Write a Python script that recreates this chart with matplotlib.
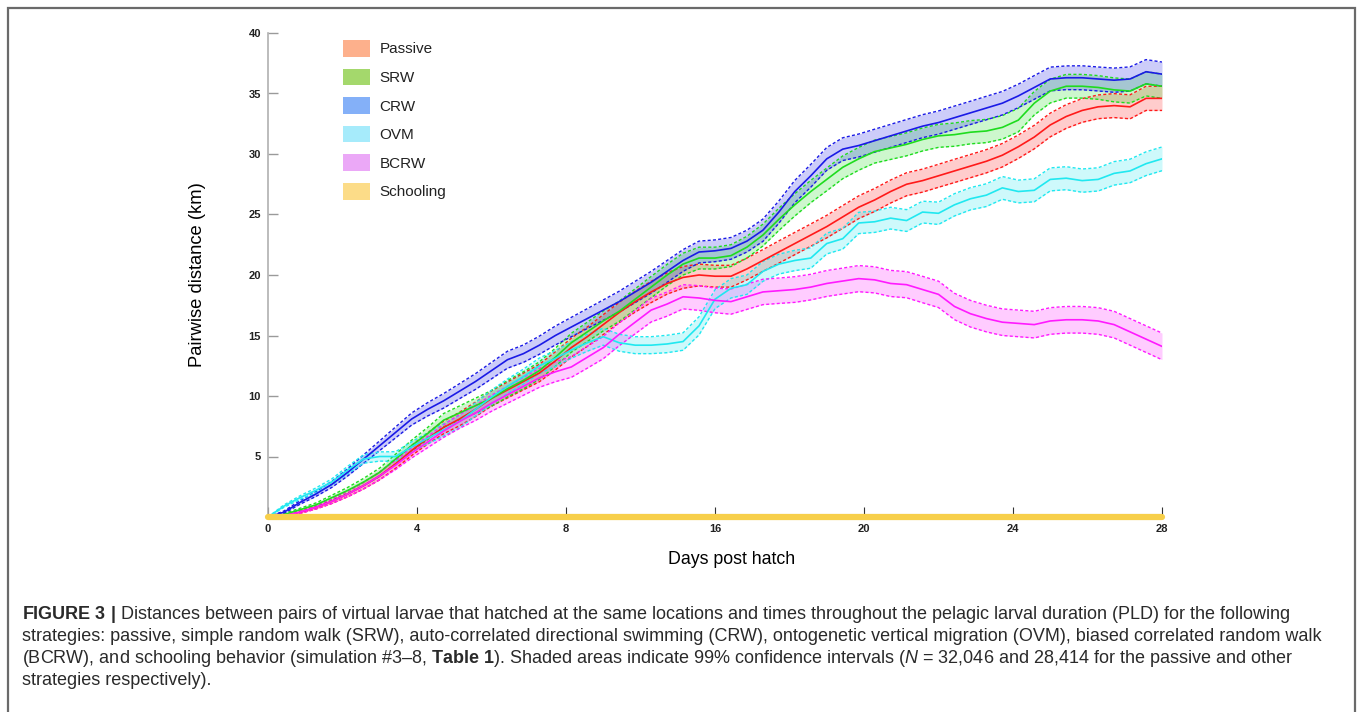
import matplotlib
matplotlib.use("Agg")
import matplotlib.pyplot as plt
from matplotlib.patches import Patch, Rectangle

plt.rcParams['font.family'] = ['Liberation Sans', 'DejaVu Sans']
plt.rcParams['mathtext.fontset'] = 'custom'
plt.rcParams['mathtext.rm'] = 'Liberation Sans'
plt.rcParams['mathtext.bf'] = 'Liberation Sans:bold'
plt.rcParams['mathtext.it'] = 'Liberation Sans:italic'

# ---------------- data ----------------
days = [i * 0.5 for i in range(57)]

crw = [0, 0.4, 1.2, 1.9, 2.7, 3.7, 4.8, 5.9, 7.0, 8.1,
       8.9, 9.6, 10.4, 11.2, 12.1, 13.0, 13.5, 14.2, 15.0, 15.7,
       16.4, 17.1, 17.8, 18.6, 19.4, 20.3, 21.2, 21.9, 22.0, 22.2,
       22.8, 23.7, 25.2, 26.9, 28.2, 29.6, 30.4, 30.7, 31.1, 31.5,
       31.9, 32.3, 32.6, 33.0, 33.4, 33.8, 34.2, 34.8, 35.5, 36.2,
       36.3, 36.3, 36.2, 36.1, 36.2, 36.8, 36.6]
srw = [0, 0.2, 0.6, 1.0, 1.6, 2.2, 2.9, 3.7, 4.8, 5.9,
       6.9, 8.0, 8.6, 9.2, 9.8, 10.6, 11.3, 12.1, 13.2, 14.4,
       15.3, 16.2, 17.0, 18.0, 19.0, 20.0, 20.9, 21.4, 21.4, 21.6,
       22.3, 23.3, 24.6, 25.8, 26.9, 27.9, 28.9, 29.6, 30.2, 30.5,
       30.8, 31.2, 31.5, 31.6, 31.8, 31.9, 32.2, 32.8, 34.2, 35.2,
       35.6, 35.6, 35.5, 35.3, 35.2, 35.8, 35.6]
passive = [0, 0.1, 0.4, 0.8, 1.3, 1.9, 2.6, 3.4, 4.4, 5.5,
           6.5, 7.4, 8.1, 8.9, 9.8, 10.5, 11.2, 11.9, 12.9, 14.0,
           14.9, 15.9, 16.9, 17.8, 18.6, 19.3, 19.8, 20.0, 19.9, 19.9,
           20.5, 21.2, 21.9, 22.6, 23.3, 24.0, 24.8, 25.6, 26.2, 26.9,
           27.5, 27.8, 28.2, 28.6, 29.0, 29.4, 29.9, 30.6, 31.4, 32.4,
           33.1, 33.6, 33.9, 34.0, 33.9, 34.6, 34.6]
bcrw = [0, 0.1, 0.4, 0.8, 1.3, 1.9, 2.6, 3.4, 4.3, 5.3,
        6.2, 7.1, 7.9, 8.6, 9.4, 10.1, 10.8, 11.5, 12.0, 12.4,
        13.2, 14.0, 15.1, 16.1, 17.1, 17.6, 18.2, 18.1, 17.9, 17.8,
        18.2, 18.6, 18.7, 18.8, 19.0, 19.3, 19.5, 19.7, 19.6, 19.3,
        19.2, 18.8, 18.4, 17.4, 16.8, 16.4, 16.1, 16.0, 15.9, 16.2,
        16.3, 16.3, 16.2, 15.9, 15.3, 14.7, 14.1]
ovm = [0, 0.9, 1.6, 2.2, 2.9, 3.9, 4.8, 5.0, 5.0, 5.8,
       6.5, 7.2, 7.9, 8.9, 9.9, 10.8, 11.6, 12.5, 13.1, 13.8,
       14.4, 14.9, 14.4, 14.2, 14.2, 14.3, 14.5, 15.8, 18.0, 18.9,
       19.2, 20.3, 20.9, 21.2, 21.4, 22.6, 23.0, 24.3, 24.4, 24.7,
       24.5, 25.2, 25.1, 25.8, 26.3, 26.6, 27.2, 26.9, 27.0, 27.9,
       28.0, 27.8, 27.9, 28.4, 28.6, 29.2, 29.6]
schooling = [0.0] * 57

# 99% CI half-widths (km)
ci_crw = [0, 0.10, 0.15, 0.20, 0.25, 0.30, 0.35, 0.40, 0.45, 0.50,
          0.55, 0.60, 0.62, 0.65, 0.68, 0.70, 0.72, 0.75, 0.78, 0.80,
          0.82, 0.84, 0.86, 0.88, 0.90, 0.90, 0.90, 0.90, 0.90, 0.90,
          0.90, 0.92, 0.92, 0.92, 0.94, 0.94, 0.94, 0.95, 0.95, 0.95,
          0.95, 0.95, 0.96, 0.96, 0.96, 0.97, 0.97, 0.97, 0.98, 0.98,
          0.98, 0.99, 0.99, 1.00, 1.00, 1.00, 1.00]
ci_srw = [0, 0.08, 0.12, 0.16, 0.20, 0.25, 0.30, 0.35, 0.40, 0.45,
          0.50, 0.55, 0.58, 0.62, 0.65, 0.68, 0.70, 0.72, 0.75, 0.78,
          0.80, 0.82, 0.84, 0.86, 0.88, 0.88, 0.90, 0.90, 0.90, 0.90,
          0.90, 0.90, 0.92, 0.92, 0.92, 0.94, 0.94, 0.94, 0.95, 0.95,
          0.95, 0.95, 0.95, 0.96, 0.96, 0.96, 0.97, 0.97, 0.97, 0.98,
          0.98, 0.98, 0.98, 0.99, 0.99, 1.00, 1.00]
ci_passive = [0, 0.06, 0.10, 0.14, 0.18, 0.22, 0.27, 0.32, 0.37, 0.42,
              0.47, 0.52, 0.56, 0.60, 0.63, 0.66, 0.69, 0.72, 0.75, 0.78,
              0.80, 0.82, 0.84, 0.86, 0.88, 0.88, 0.90, 0.90, 0.90, 0.90,
              0.90, 0.90, 0.92, 0.92, 0.92, 0.93, 0.94, 0.94, 0.95, 0.95,
              0.95, 0.95, 0.95, 0.96, 0.96, 0.96, 0.97, 0.97, 0.97, 0.98,
              0.98, 0.98, 0.98, 0.99, 0.99, 1.00, 1.00]
ci_ovm = [0, 0.10, 0.15, 0.20, 0.25, 0.30, 0.35, 0.38, 0.40, 0.42,
          0.45, 0.50, 0.52, 0.55, 0.58, 0.60, 0.62, 0.64, 0.66, 0.68,
          0.70, 0.70, 0.70, 0.70, 0.70, 0.72, 0.72, 0.75, 0.78, 0.80,
          0.80, 0.82, 0.82, 0.84, 0.84, 0.86, 0.86, 0.88, 0.88, 0.90,
          0.90, 0.90, 0.92, 0.92, 0.92, 0.94, 0.94, 0.94, 0.95, 0.95,
          0.95, 0.96, 0.96, 0.97, 0.97, 0.98, 0.98]
ci_bcrw = [0, 0.06, 0.10, 0.14, 0.18, 0.22, 0.27, 0.32, 0.37, 0.42,
           0.47, 0.52, 0.57, 0.62, 0.66, 0.70, 0.74, 0.78, 0.82, 0.86,
           0.90, 0.92, 0.94, 0.96, 0.98, 1.00, 1.00, 1.02, 1.02, 1.04,
           1.04, 1.05, 1.05, 1.06, 1.06, 1.07, 1.07, 1.08, 1.08, 1.08,
           1.08, 1.09, 1.09, 1.09, 1.10, 1.10, 1.10, 1.10, 1.10, 1.10,
           1.10, 1.10, 1.10, 1.10, 1.10, 1.10, 1.10]

strategies = ['Passive', 'SRW', 'CRW', 'OVM', 'BCRW', 'Schooling']
line_colors = ['#ff1a1a', '#1edc1e', '#1a1ae6', '#20e8f0', '#ff1aff', '#f7cf4a']
legend_colors = ['#fdb08c', '#a4d86c', '#84b0f8', '#a6ebfb', '#eba8f7', '#fcdc88']
xtick_pos = [0, 28 / 6, 2 * 28 / 6, 3 * 28 / 6, 4 * 28 / 6, 5 * 28 / 6, 28]
xtick_labels = ['0', '4', '8', '16', '20', '24', '28']
ytick_vals = [5, 10, 15, 20, 25, 30, 35, 40]

# ---------------- figure ----------------
W, H = 1358, 712
fig = plt.figure(figsize=(W / 100, H / 100), dpi=100)
fig.patch.set_facecolor('white')

x0, x1 = 268, 1162
y0, y1 = 517, 33
ax = fig.add_axes([x0 / W, 1 - y0 / H, (x1 - x0) / W, (y0 - y1) / H])
ax.set_xlim(0, 28)
ax.set_ylim(0, 40)

series = [passive, srw, crw, ovm, bcrw]
cis = [ci_passive, ci_srw, ci_crw, ci_ovm, ci_bcrw]
for vals, ci, col in zip(series, cis, line_colors[:5]):
    lo = [v - c for v, c in zip(vals, ci)]
    hi = [v + c for v, c in zip(vals, ci)]
    ax.fill_between(days, lo, hi, color=col, alpha=0.22, linewidth=0, zorder=2)
    ax.plot(days, lo, color=col, lw=1.0, ls=(0, (2.2, 1.6)), zorder=3)
    ax.plot(days, hi, color=col, lw=1.0, ls=(0, (2.2, 1.6)), zorder=3)
    ax.plot(days, vals, color=col, lw=1.2, zorder=4)

ax.plot(days, schooling, color=line_colors[5], lw=4.5, solid_capstyle='round',
        zorder=5, clip_on=False)

for s in ['top', 'right', 'bottom']:
    ax.spines[s].set_visible(False)
ax.spines['left'].set_color('#b0b0b0')
ax.spines['left'].set_linewidth(1.2)

ax.set_yticks(ytick_vals)
ax.set_yticklabels([str(v) for v in ytick_vals], fontsize=8, fontweight='bold',
                   color='#222222')
ax.tick_params(axis='y', direction='in', length=7, width=1, color='#9a9a9a', pad=5)
ax.set_xticks(xtick_pos)
ax.set_xticklabels(xtick_labels, fontsize=8, fontweight='bold', color='#222222')
ax.tick_params(axis='x', direction='in', length=7, width=0.8, color='#333333', pad=5)

fig.text(198 / W, 1 - 275 / H, 'Pairwise distance (km)', rotation=90,
         ha='center', va='center', fontsize=13.2, color='#000000')
fig.text(732 / W, 1 - 559 / H, 'Days post hatch', ha='center', va='center',
         fontsize=12.8, color='#000000')

handles = [Patch(facecolor=c, edgecolor='none') for c in legend_colors]
ax.legend(handles, strategies, loc='upper left',
          bbox_to_anchor=(343 / W, 1 - 40 / H), bbox_transform=fig.transFigure,
          frameon=False, fontsize=11, borderpad=0, borderaxespad=0,
          handlelength=1.75, handleheight=1.3, handletextpad=0.65,
          labelspacing=0.78, labelcolor='#222222')

# outer frame
fig.add_artist(Rectangle((8 / W, -0.05), (1355 - 8) / W, 1.05 - 8 / H,
                         transform=fig.transFigure, fill=False,
                         edgecolor='#6a6a6a', lw=1.6))

# caption
cap_col = '#2a2a2a'
cap_fs = 12.95
cap_x = 22 / W
lines = [
    r'$\mathbf{FIGURE\ 3\ |}$ Distances between pairs of virtual larvae that hatched at the same locations and times throughout the pelagic larval duration (PLD) for the following',
    'strategies: passive, simple random walk (SRW), auto-correlated directional swimming (CRW), ontogenetic vertical migration (OVM), biased correlated random walk',
    r'(BCRW), and schooling behavior (simulation #3–8, $\mathbf{Table\ 1}$). Shaded areas indicate 99% confidence intervals ($\mathit{N}$ = 32,046 and 28,414 for the passive and other',
    'strategies respectively).',
]
for i, t in enumerate(lines):
    fig.text(cap_x, 1 - (619 + 22 * i) / H, t, ha='left', va='baseline',
             fontsize=cap_fs, color=cap_col)

fig.savefig('out.png', dpi=100, facecolor='white')
